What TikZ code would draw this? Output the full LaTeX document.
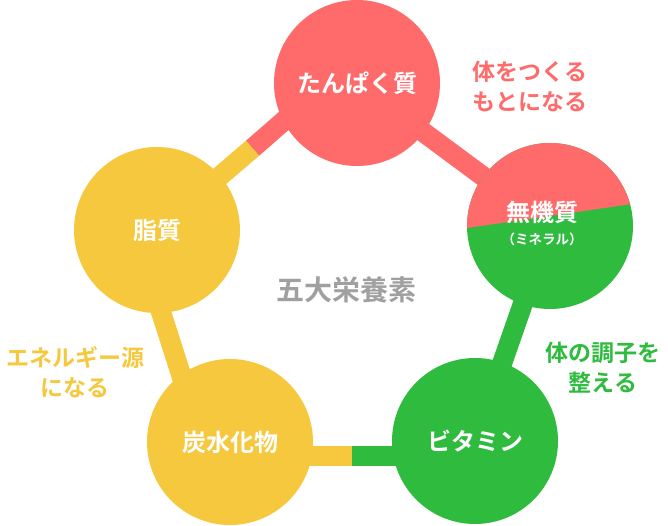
\documentclass[tikz,border=0pt]{standalone}
\usepackage{fontspec}
\setmainfont{Noto Sans CJK JP}[BoldFont={Noto Sans CJK JP Bold}]
\usepackage{tikz}
\usetikzlibrary{backgrounds}
\definecolor{protein}{HTML}{FF6B6B}
\definecolor{vitamin}{HTML}{2EBB3E}
\definecolor{energy}{HTML}{F5C83D}
\definecolor{title}{HTML}{A0A0A0}

\begin{document}
\begin{tikzpicture}[x=1pt,y=1pt]
            \tikzstyle{nutrient}=[circle,minimum size=166pt,inner sep=0pt,text=white,font=\bfseries\fontsize{24}{28}\selectfont]
            \tikzstyle{bar}=[line width=20pt]
            \tikzstyle{note}=[align=center,inner sep=0pt,font=\bfseries\fontsize{23}{30}\selectfont]
            \useasboundingbox (0,0) rectangle (668,525);

            \foreach \name/\x/\y/\col/\txt in {P/357/442/protein/たんぱく質, M/550/299/vitamin/{}, V/475/84/vitamin/ビタミン, C/230/83/energy/炭水化物, L/157/295/energy/脂質}
                    \node[nutrient,fill=\col] (\name) at (\x,\y) {\txt};

                \fill[protein] ([shift={(15.2:83)}]M.center) arc[start angle=15.2, end angle=181.4, radius=83] -- cycle;
                \node[text=white,font=\bfseries\fontsize{24}{28}\selectfont] (M-name) at (542,313) {無機質};
                \node[text=white,font=\bfseries\fontsize{13.5}{15}\selectfont] (M-sub) at (542,286) {（ミネラル）};

                \node[text=title,font=\bfseries\fontsize{28}{32}\selectfont] (title) at (346,235) {五大栄養素};
                \node[note,text=protein] (P-note) at (530,438) {体をつくる\\もとになる};
                \node[note,text=vitamin] (V-note) at (603,157) {体の調子を\\整える};
                \node[note,text=energy] (C-note) at (75,153) {エネルギー源\\になる};

                \begin{pgfonlayer}{background}
                \draw[bar,protein] (P.center) -- (M.center);
                \draw[bar,vitamin] (M.center) -- (V.center);
                \coordinate (CV-split) at (352,69.5);
                \draw[bar,vitamin] (CV-split) -- (V.center |- CV-split);
                \draw[bar,energy] (CV-split) -- (C.center |- CV-split);
                \coordinate (LC-top) at (134.6,295.5);
                \coordinate (LC-bot) at (202.8,82.5);
                \draw[bar,energy] (LC-top) -- (LC-bot);
                \coordinate (PL-split) at (252.5,376.7);
                \coordinate (PL-top) at (357,468);
                \draw[bar,protein] (PL-split) -- (PL-top);
                \draw[bar,energy] (PL-split) -- (L.center);
                \end{pgfonlayer}
        \end{tikzpicture}
\end{document}
